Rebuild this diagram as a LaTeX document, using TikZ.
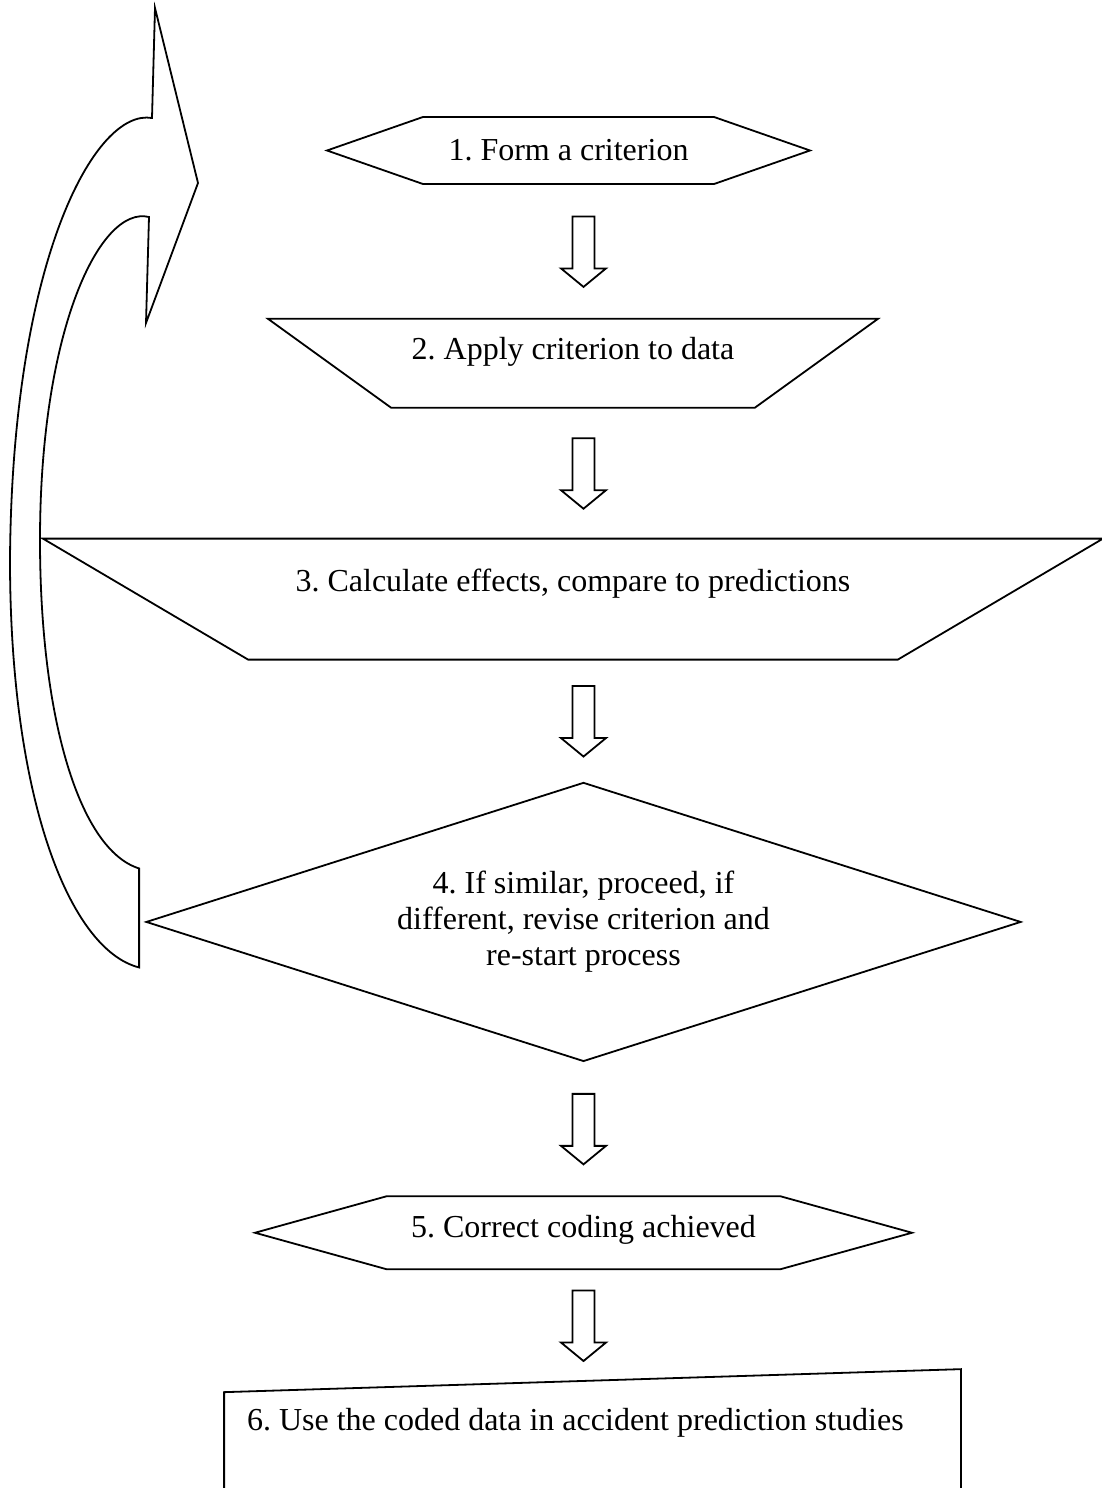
\documentclass[tikz,border=0pt]{standalone}
\usepackage{fontspec}
\setmainfont{Liberation Serif}
\frenchspacing
\usetikzlibrary{shapes,positioning,calc}

\newcommand\hollowarrow[2]{%
  \path ($(#1)!.5!(#2)$) coordinate (ArrowMid);
  \pic at (ArrowMid -| Sim) {downarrow};}

\begin{document}
\begin{tikzpicture}[x=.5pt,y=-.5pt,line width=.9pt,
    every node/.style={font=\fontsize{16pt}{18pt}\selectfont},
    hexbox/.style={signal,signal to=east and west,draw,inner sep=0pt},
    funnel/.style={trapezium,shape border rotate=180,trapezium stretches body,draw},
    pics/downarrow/.style={code={\draw (-11,-35) -- (11,-35) -- (11,17) -- (22.5,17) -- (0,35.5) -- (-22.5,17) -- (-11,17) -- cycle;}}]
  \useasboundingbox (0,0) rectangle (1102,1488);

  \node[hexbox,minimum width=241.5pt,minimum height=33.5pt,signal pointer angle=38.5] (Form) at (568.5,150.5) {1. Form a criterion};
  \node[funnel,below=66.5pt of Form,xshift=2.25pt,minimum width=305pt,minimum height=44.5pt,trapezium angle=28,text depth=15pt] (Apply) {2. Apply criterion to data};
  \node[funnel,below=64.5pt of Apply,minimum width=530pt,minimum height=60.5pt,trapezium angle=19.8,text depth=19pt] (Calc) {3. Calculate effects, compare to predictions};
  \node[diamond,draw,aspect=3.14,below=60.5pt of Calc,xshift=5.25pt,minimum width=437.5pt,minimum height=139.5pt,align=center] (Sim) {4. If similar, proceed, if\\different, revise criterion and\\re-start process};
  \node[hexbox,below=66.5pt of Sim,minimum width=328.5pt,minimum height=36.5pt,signal pointer angle=31,text depth=6pt] (Done) {5. Correct coding achieved};
  \node[below=61pt of Done,xshift=4.5pt,minimum width=367.5pt,minimum height=30pt,inner xsep=11pt,text width=345.5pt,align=flush left] (Use) {6. Use the coded data in accident prediction studies};
  \draw ([yshift=-19pt]Use.south west) -- (Use.north west) -- ([yshift=11.5pt]Use.north east) coordinate (UseCorner) -- ([yshift=-19pt]Use.south east);
  \coordinate (UseTop) at ($(Use.north west)!.49!(UseCorner)$);

  \foreach \a/\b in {Form.south/Apply.north,Apply.south/Calc.north,Calc.south/Sim.north,Sim.south/Done.north,Done.south/UseTop}
    \hollowarrow{\a}{\b};

  % loop back to the start
  \coordinate (Restart) at (198,183);
  \draw ([shift={(-6,-53.5)}]Sim.west) -- ++(0,99)
    .. controls (70,950) and (10,800) .. (10,560)
    .. controls (12,260) and (95,108) .. (152,118)
    -- (155,8) -- (Restart) -- (146,323) -- (149,217)
    .. controls (100,205) and (40,330) .. (40,540)
    .. controls (40,720) and (80,850) .. cycle;
\end{tikzpicture}
\end{document}
